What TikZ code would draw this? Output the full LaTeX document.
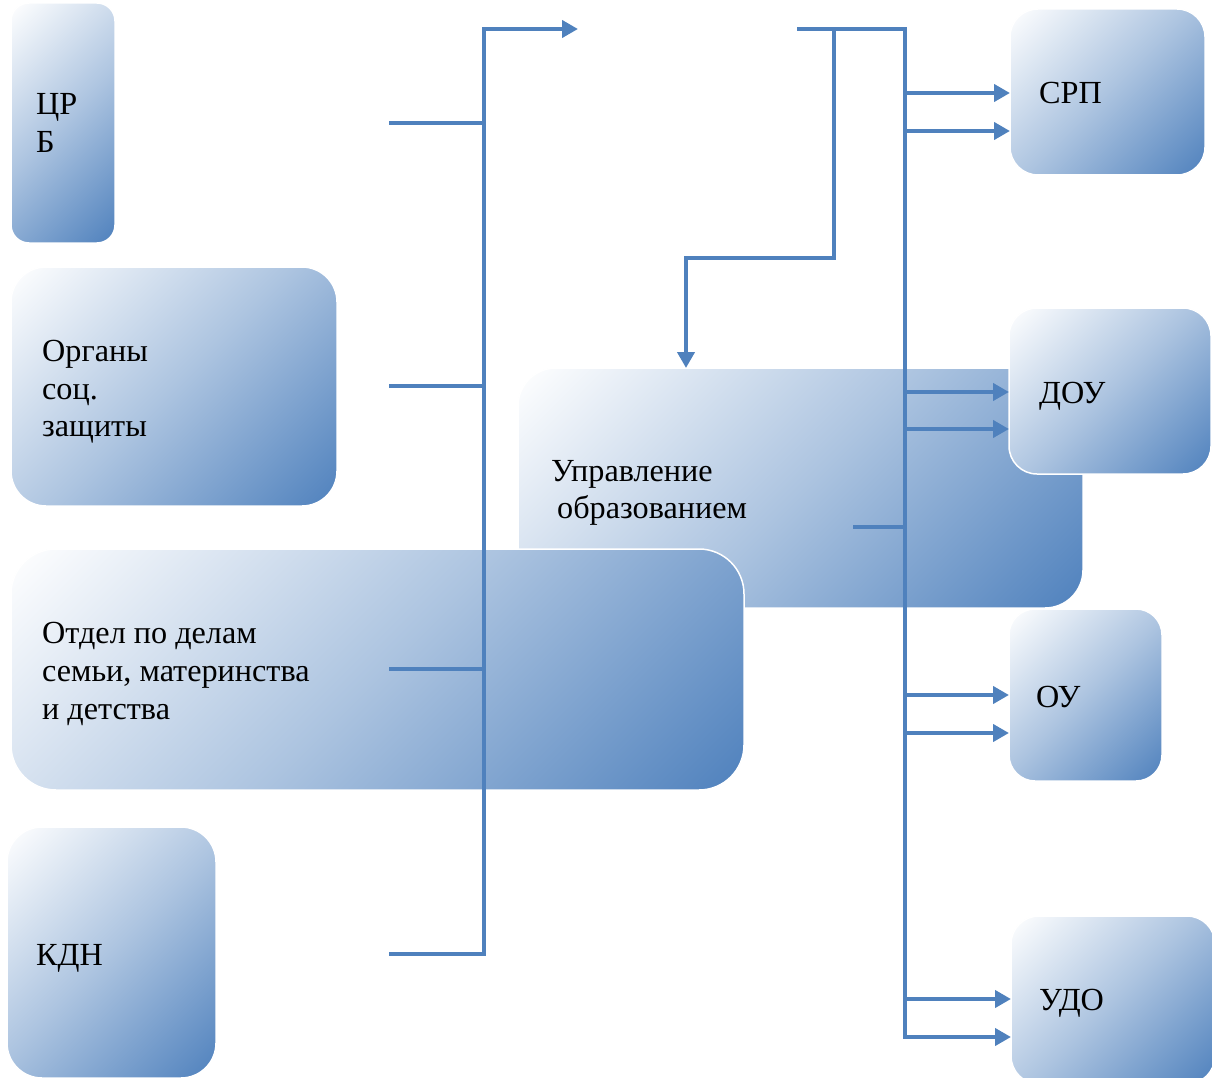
\documentclass[tikz,border=0pt]{standalone}
\usepackage{fontspec}
\setmainfont{Liberation Serif}
\usetikzlibrary{arrows.meta,calc}
\definecolor{gradblue}{RGB}{79,129,189}
\definecolor{lineblue}{RGB}{79,129,189}
\pgfdeclareverticalshading{wordgrad}{100bp}{color(0bp)=(gradblue); color(14.6bp)=(gradblue); color(50bp)=(gradblue!47!white); color(85.4bp)=(white); color(100bp)=(white)}
\begin{document}
\begin{tikzpicture}[x=1pt,y=-1pt,
  box/.style={shade, shading=wordgrad, shading angle=45,
    draw=white, line width=1.5pt, rounded corners=#1, inner sep=0pt, outer sep=0pt,
    anchor=north west},
  box/.default=25pt,
  lbl/.style={anchor=base west, inner sep=0pt, font=\fontsize{32.2}{38}\selectfont},
  conn/.style={draw=lineblue, line width=4.5pt, line join=miter},
  arr/.style={conn, -{Triangle[length=16pt,width=17pt]}}]
\useasboundingbox (0,0) rectangle (1212,1078);
% boxes
\node[box=18pt, minimum width=104pt, minimum height=240pt] (crb) at (11,3) {};
\node[box=35pt, minimum width=326pt, minimum height=239pt] (org) at (11,267) {};
\node[box=38pt, minimum width=565pt, minimum height=240pt] (upr) at (518,368) {};
\node[box=45pt, minimum width=733pt, minimum height=241pt] (otd) at (11,549) {};
\node[box=35pt, minimum width=209pt, minimum height=251pt] (kdn) at (7,827) {};
\node[box=28pt, minimum width=195pt, minimum height=166pt] (srp) at (1010,9) {};
\node[box=28pt, minimum width=202pt, minimum height=166pt] (dou) at (1009,308) {};
\node[box=26pt, minimum width=153pt, minimum height=172pt] (ou) at (1009,609) {};
\node[box=28pt, minimum width=204pt, minimum height=168pt] (udo) at (1011,916) {};
% labels
\node[lbl] (crb-a) at (36,115) {ЦР};
\node[lbl] (crb-b) at (36,153) {Б};
\node[lbl] (org-a) at (42,361) {Органы};
\node[lbl] (org-b) at (42,399) {соц.};
\node[lbl] (org-c) at (42,436) {защиты};
\node[lbl] (upr-a) at (551,481) {Управление};
\node[lbl] (upr-b) at (557,518) {образованием};
\node[lbl] (otd-a) at (42,643) {Отдел по делам};
\node[lbl] (otd-b) at (42,681) {семьи, материнства};
\node[lbl] (otd-c) at (42,719) {и детства};
\node[lbl] (kdn-a) at (36,965) {КДН};
\node[lbl] (srp-a) at (1039,104) {СРП};
\node[lbl] (dou-a) at (1039,403) {ДОУ};
\node[lbl] (ou-a) at (1036,707) {ОУ};
\node[lbl] (udo-a) at (1039,1010) {УДО};
% left bus
\coordinate (busL) at (484,29);
\coordinate (outL) at (578,29);
\coordinate (s1) at (389,123);
\coordinate (s2) at (389,386);
\coordinate (s3) at (389,669);
\coordinate (s4) at (389,954);
\draw[arr] (s4) -| (busL) -- (outL);
\draw[conn] (s1) -- (s1 -| busL);
\draw[conn] (s2) -- (s2 -| busL);
\draw[conn] (s3) -- (s3 -| busL);
% right bus
\coordinate (inR) at (797,29);
\coordinate (busR) at (905,29);
\coordinate (busRb) at (905,1037);
\coordinate (k1) at (834,29);
\coordinate (k2) at (686,258);
\draw[arr] (inR) -| (busRb) -- (busRb -| udo.west);
\draw[arr] (k1) |- (k2) -- (k2 |- upr.north);
\coordinate (us) at (853,527);
\draw[conn] (us) -- (us -| busR);
\coordinate (b1) at (905,93);
\coordinate (b2) at (905,131);
\coordinate (b3) at (905,392);
\coordinate (b4) at (905,429);
\coordinate (b5) at (905,695);
\coordinate (b6) at (905,733);
\coordinate (b7) at (905,999);
\draw[arr] (b1) -- (b1 -| srp.west);
\draw[arr] (b2) -- (b2 -| srp.west);
\draw[arr] (b3) -- (b3 -| dou.west);
\draw[arr] (b4) -- (b4 -| dou.west);
\draw[arr] (b5) -- (b5 -| ou.west);
\draw[arr] (b6) -- (b6 -| ou.west);
\draw[arr] (b7) -- (b7 -| udo.west);
\end{tikzpicture}
\end{document}
